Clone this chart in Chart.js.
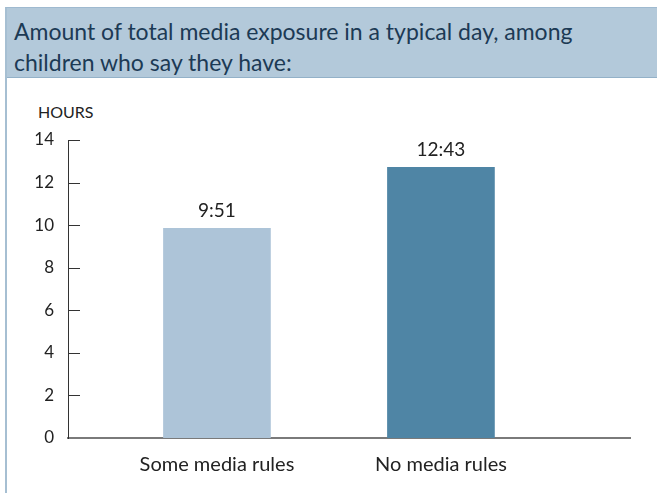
<!DOCTYPE html>
<html>
<head>
<meta charset="utf-8">
<script src="https://cdn.jsdelivr.net/npm/chart.js@4"></script>
<style>
  html, body { margin: 0; padding: 0; background: #ffffff; }
  body { width: 657px; height: 493px; position: relative; overflow: hidden; font-family: Lato, "Open Sans", sans-serif; }
  #frame { position: absolute; left: 5px; top: 7px; right: 0; bottom: 0; border-left: 2px solid #a6bfd2; border-top: 1px solid #9fbad0; }
  #title { position: absolute; left: 0; top: 0; right: 0; height: 70px; background: #b3c9da; border-bottom: 1px solid #93b1c8;
           color: #1c3a55; font-size: 23px; line-height: 31px; padding: 8px 0 0 7px; box-sizing: border-box; }
  #hours { position: absolute; left: 38px; top: 102px; font-size: 16px; color: #222; }
  #wrap { position: absolute; left: 0; top: 0; width: 657px; height: 493px; }
</style>
</head>
<body>
<div id="frame"><div id="title">Amount of total media exposure in a typical day, among<br>children who say they have:</div></div>
<div id="hours">HOURS</div>
<div id="wrap"><canvas id="c" width="657" height="493"></canvas></div>
<script>
const categories = ['Some media rules', 'No media rules'];
const durations = ['9:51', '12:43'];
const yTicks = [0, 2, 4, 6, 8, 10, 12, 14];
const barColors = ['#adc4d8', '#4f85a5'];

const hoursValues = durations.map(d => { const [h, m] = d.split(':').map(Number); return h + m / 60; });

const innerTicks = {
  id: 'innerTicks',
  afterDraw(chart) {
    const ctx = chart.ctx, y = chart.scales.y, left = chart.chartArea.left;
    ctx.save();
    ctx.strokeStyle = '#333';
    ctx.lineWidth = 1;
    yTicks.forEach(v => {
      if (v === 0) return;
      const py = Math.round(y.getPixelForValue(v)) + 0.5;
      ctx.beginPath(); ctx.moveTo(left, py); ctx.lineTo(left + 12, py); ctx.stroke();
    });
    ctx.restore();
  }
};
const valueLabels = {
  id: 'valueLabels',
  afterDatasetsDraw(chart) {
    const ctx = chart.ctx, meta = chart.getDatasetMeta(0);
    ctx.save();
    ctx.font = '19px Lato, "Open Sans", sans-serif';
    ctx.fillStyle = '#222';
    ctx.textAlign = 'center';
    ctx.textBaseline = 'bottom';
    meta.data.forEach((el, i) => ctx.fillText(durations[i], el.x, el.y - 8));
    ctx.restore();
  }
};

new Chart(document.getElementById('c'), {
  type: 'bar',
  data: {
    datasets: [{
      data: categories.map((c, i) => ({ x: i + 1, y: hoursValues[i] })),
      backgroundColor: barColors,
      borderWidth: 0,
      barThickness: 107
    }]
  },
  options: {
    responsive: false,
    animation: false,
    layout: { padding: { top: 140, right: 27, left: 0, bottom: 0 } },
    plugins: { legend: { display: false }, tooltip: { enabled: false } },
    scales: {
      x: {
        type: 'linear', min: 0.335, max: 2.844, offset: false,
        grid: { display: false, drawTicks: false, offset: false },
        border: { display: true, color: '#7a7a7a', width: 2 },
        afterFit(s) { s.height = 55; },
        ticks: {
          stepSize: 1, includeBounds: false, padding: 15,
          color: '#222', font: { family: 'Lato', size: 20 },
          callback: v => categories[v - 1] || ''
        }
      },
      y: {
        min: 0, max: 14,
        grid: { display: false, drawTicks: false },
        border: { display: true, color: '#333', width: 1 },
        afterFit(s) { s.width = 68; },
        afterBuildTicks(s) { s.ticks = yTicks.map(v => ({ value: v })); },
        ticks: { padding: 14, color: '#222', font: { family: 'Lato', size: 17 } }
      }
    }
  },
  plugins: [innerTicks, valueLabels]
});
</script>
</body>
</html>
